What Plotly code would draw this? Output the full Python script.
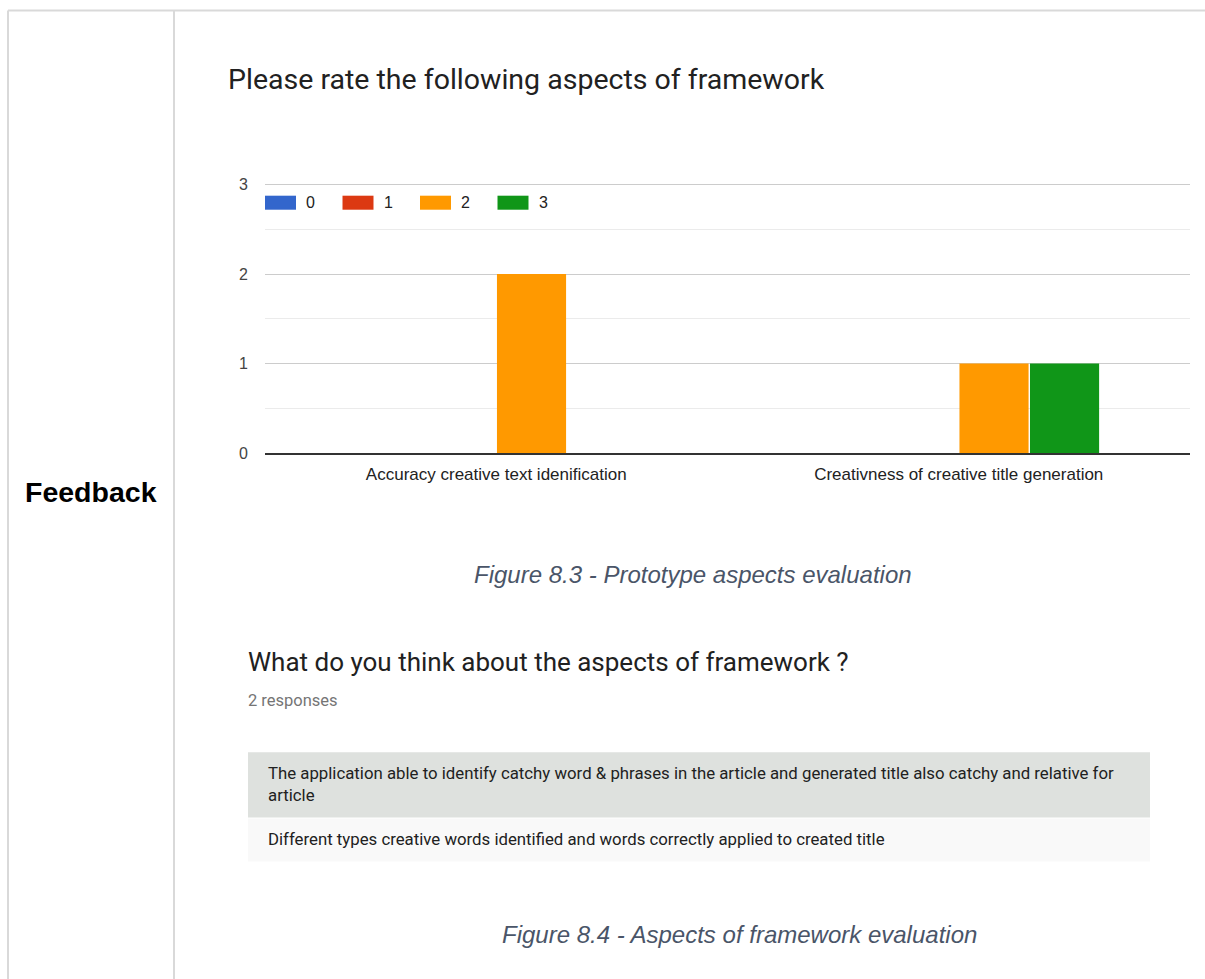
import plotly.graph_objects as go

# Survey data: count of responses per rating for each aspect
categories = ["Accuracy creative text idenification", "Creativness of creative title generation"]
ratings = ["0", "1", "2", "3"]
counts_0 = [0, 0]
counts_1 = [0, 0]
counts_2 = [2, 1]
counts_3 = [0, 1]
rating_colors = ["#3366cc", "#dc3912", "#ff9900", "#109618"]

y_ticks = [0, 1, 2, 3]

chart_title = "Please rate the following aspects of framework"
side_label = "Feedback"
caption_1 = "Figure 8.3 - Prototype aspects evaluation"
question = "What do you think about the aspects of framework ?"
response_count = "2 responses"
responses = [
    "The application able to identify catchy word & phrases in the article and generated title also catchy and relative for<br>article",
    "Different types creative words identified and words correctly applied to created title",
]
caption_2 = "Figure 8.4 - Aspects of framework evaluation"

W, H = 1205, 979
L, R, B = 265, 1190, 453          # plot edges in pixels
UNIT = (453 - 185) / 3            # pixels per response
Y_TOP = 3.03                      # a little above 3 so the top gridline is drawn
T = B - Y_TOP * UNIT


def px(x):
    return (x - L) / (R - L)


def py(y):
    return (B - y) / (B - T)


fig = go.Figure()
for name, vals, col in zip(ratings, [counts_0, counts_1, counts_2, counts_3], rating_colors):
    fig.add_trace(go.Bar(x=categories, y=vals, name=name, marker=dict(color=col, line=dict(width=0)),
                         showlegend=False))

shapes = []
annotations = []

# page frame lines
grey = "#d9d9d9"
shapes.append(dict(type="line", xref="paper", yref="paper", x0=px(8), x1=px(1205), y0=py(11), y1=py(11),
                   line=dict(color=grey, width=2)))
shapes.append(dict(type="line", xref="paper", yref="paper", x0=px(8), x1=px(8), y0=py(11), y1=py(979),
                   line=dict(color=grey, width=2)))
shapes.append(dict(type="line", xref="paper", yref="paper", x0=px(174), x1=px(174), y0=py(11), y1=py(979),
                   line=dict(color=grey, width=2)))

# custom legend: wide swatches followed by labels
for i, (name, col) in enumerate(zip(ratings, rating_colors)):
    x0 = 265 + i * 77.5
    shapes.append(dict(type="rect", xref="paper", yref="paper", x0=px(x0), x1=px(x0 + 31),
                       y0=py(210), y1=py(196), fillcolor=col, line=dict(width=0)))
    annotations.append(dict(text=name, xref="paper", yref="paper", x=px(x0 + 39), y=py(203),
                            xanchor="left", yanchor="middle", showarrow=False,
                            font=dict(family="Liberation Sans, Arial", size=16, color="#222222")))

# response table rows
shapes.append(dict(type="rect", xref="paper", yref="paper", x0=px(248), x1=px(1150), y0=py(817), y1=py(752),
                   fillcolor="#dee1de", line=dict(width=0), layer="below"))
shapes.append(dict(type="rect", xref="paper", yref="paper", x0=px(248), x1=px(1150), y0=py(861), y1=py(818),
                   fillcolor="#f9f9f9", line=dict(width=0), layer="below"))

annotations += [
    dict(text=chart_title, x=px(226), y=py(80), xanchor="left", yanchor="middle",
         font=dict(family="Roboto", size=28.5, color="#212121")),
    dict(text="<b>" + side_label + "</b>", x=px(91), y=py(492), xanchor="center", yanchor="middle",
         font=dict(family="Liberation Sans, Arial", size=28.5, color="#000000")),
    dict(text="<i>" + caption_1 + "</i>", x=px(693), y=py(574), xanchor="center", yanchor="middle",
         font=dict(family="Liberation Sans, Arial", size=24, color="#4a5568")),
    dict(text=question, x=px(246), y=py(662), xanchor="left", yanchor="middle",
         font=dict(family="Roboto", size=26, color="#212121")),
    dict(text=response_count, x=px(246), y=py(700), xanchor="left", yanchor="middle",
         font=dict(family="Roboto", size=16.5, color="#757575")),
    dict(text=responses[0], x=px(266), y=py(784), xanchor="left", yanchor="middle", align="left",
         font=dict(family="Roboto", size=16.8, color="#212121")),
    dict(text=responses[1], x=px(266), y=py(839), xanchor="left", yanchor="middle", align="left",
         font=dict(family="Roboto", size=16.8, color="#212121")),
    dict(text="<i>" + caption_2 + "</i>", x=px(739), y=py(934), xanchor="center", yanchor="middle",
         font=dict(family="Liberation Sans, Arial", size=24, color="#4a5568")),
]
for a in annotations:
    a.setdefault("xref", "paper")
    a.setdefault("yref", "paper")
    a["showarrow"] = False

fig.update_layout(
    width=W, height=H,
    margin=dict(l=L, r=W - R, t=T, b=H - B, pad=0),
    paper_bgcolor="white", plot_bgcolor="white",
    barmode="group", bargap=0.39, bargroupgap=0.02,
    shapes=shapes, annotations=annotations,
    font=dict(family="Liberation Sans, Arial", size=16, color="#444444"),
)
fig.update_xaxes(showgrid=False, showline=True, linecolor="#333333", linewidth=1.5,
                 tickfont=dict(family="Liberation Sans, Arial", size=17, color="#222222"),
                 ticks="", ticklabelstandoff=5)
fig.update_yaxes(range=[0, Y_TOP], tickvals=y_ticks, showgrid=True, gridcolor="#cccccc", gridwidth=1,
                 zeroline=False, showline=False, ticks="", ticklabelstandoff=16,
                 tickfont=dict(family="Liberation Sans, Arial", size=16, color="#444444"),
                 minor=dict(dtick=0.5, showgrid=True, gridcolor="#ebebeb", gridwidth=1))

fig.write_html("out.html")
